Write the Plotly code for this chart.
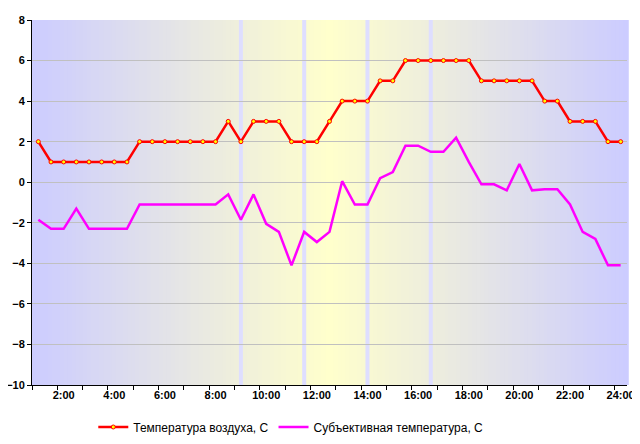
import plotly.graph_objects as go

# Time: every half hour from 1:00 to 24:00 (hours)
hours = [1 + 0.5 * i for i in range(47)]

air_temp = [2, 1, 1, 1, 1, 1, 1, 1, 2, 2, 2, 2, 2, 2, 2, 3, 2, 3, 3, 3, 2, 2, 2, 3,
            4, 4, 4, 5, 5, 6, 6, 6, 6, 6, 6, 5, 5, 5, 5, 5, 4, 4, 3, 3, 3, 2, 2]

feel_temp = [-1.85, -2.3, -2.3, -1.3, -2.3, -2.3, -2.3, -2.3, -1.1, -1.1, -1.1, -1.1,
             -1.1, -1.1, -1.1, -0.6, -1.85, -0.6, -2.05, -2.45, -4.1, -2.45, -2.95, -2.45,
             0.05, -1.1, -1.1, 0.2, 0.5, 1.8, 1.8, 1.5, 1.5, 2.2, 1.0, -0.1, -0.1, -0.4,
             0.9, -0.4, -0.35, -0.35, -1.1, -2.45, -2.8, -4.1, -4.1]

tick_vals = [2, 4, 6, 8, 10, 12, 14, 16, 18, 20, 22, 24]
tick_text = ["2:00", "4:00", "6:00", "8:00", "10:00", "12:00", "14:00", "16:00",
             "18:00", "20:00", "22:00", "24:00"]
band_hours = [9, 11.5, 14, 16.5]

series_names = ["Температура воздуха, С", "Субъективная температура, С"]

FONT = "Arial, 'Liberation Sans', sans-serif"

fig = go.Figure()
fig.add_trace(go.Scatter(
    x=hours, y=air_temp, name=series_names[0], mode="lines+markers",
    line=dict(color="#FF0000", width=2.5),
    marker=dict(symbol="circle", size=4, color="#FFFF00", line=dict(color="#FF0000", width=1)),
))
fig.add_trace(go.Scatter(
    x=hours, y=feel_temp, name=series_names[1], mode="lines",
    line=dict(color="#FF00FF", width=2.5),
))

# Background gradient: blue at the edges, light yellow in the middle
shapes = []
N = 150
for k in range(N):
    t = (k + 0.5) / N
    d = abs(t - 0.5) * 2
    r = round(255 - 51 * d)
    b = round(204 + 51 * d)
    shapes.append(dict(type="rect", xref="x domain", yref="y domain",
                       x0=k / N, x1=(k + 1) / N + 0.003, y0=0, y1=1,
                       fillcolor=f"rgb({r},{r},{b})", line=dict(width=0), layer="below"))
for h in band_hours:
    shapes.append(dict(type="rect", xref="x", yref="y domain",
                       x0=h - 0.08, x1=h + 0.08, y0=0, y1=1,
                       fillcolor="rgb(222,222,255)", line=dict(width=0), layer="below"))

# The page body has an 8px default margin, so the figure is sized to fit the window.
fig.update_layout(
    width=632, height=436,
    margin=dict(l=24, r=13, t=12, b=59, autoexpand=False),
    paper_bgcolor="white", plot_bgcolor="white",
    font=dict(family=FONT, size=11, color="black"),
    shapes=shapes,
    showlegend=True,
    legend=dict(orientation="h", x=0.103, xanchor="left",
                yref="container", y=0.039, yanchor="middle",
                font=dict(family=FONT, size=12, color="black"),
                itemwidth=30, tracegroupgap=0),
    xaxis=dict(
        range=[0.75, 24.25], tickvals=tick_vals, ticktext=tick_text,
        ticks="", showgrid=False, zeroline=False, automargin=False,
        showline=True, linecolor="black", linewidth=1,
        tickfont=dict(family=FONT, size=11, color="black", weight="bold"),
        minor=dict(ticks="outside", tick0=0.75, dtick=1, ticklen=4, tickcolor="black",
                   tickwidth=1, showgrid=False),
    ),
    yaxis=dict(
        range=[-10, 8], dtick=2, tick0=0, automargin=False,
        ticks="outside", ticklen=4, tickcolor="black",
        showgrid=True, gridcolor="rgb(192,192,192)", gridwidth=1,
        zeroline=False, showline=True, linecolor="black", linewidth=1,
        tickfont=dict(family=FONT, size=11, color="black", weight="bold"),
    ),
)

fig.write_html("out.html")
